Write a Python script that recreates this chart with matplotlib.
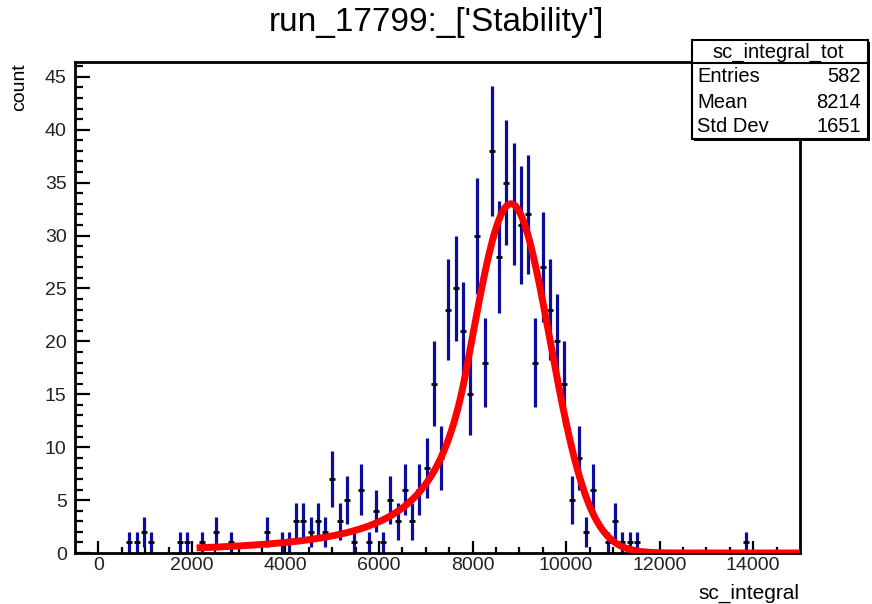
import numpy as np
import matplotlib
matplotlib.use("Agg")
import matplotlib.pyplot as plt
from matplotlib.patches import Rectangle

plt.rcParams['font.family'] = ['Liberation Sans', 'DejaVu Sans']

# histogram: 100 bins from -500 to 15000
x_lo = -500.0
x_hi = 15000.0
n_bins = 100
counts = [
    0, 0, 0, 0, 0, 0, 0, 1, 1, 2,
    1, 0, 0, 0, 1, 1, 0, 1, 0, 2,
    0, 1, 0, 0, 0, 0, 2, 0, 1, 1,
    3, 3, 2, 3, 2, 7, 3, 5, 1, 6,
    1, 4, 1, 5, 3, 6, 3, 6, 8, 16,
    9, 23, 25, 21, 15, 30, 18, 38, 28, 35,
    33, 31, 32, 18, 27, 23, 20, 16, 5, 9,
    2, 6, 0, 1, 3, 1, 1, 1, 0, 0,
    0, 0, 0, 0, 0, 0, 0, 0, 0, 0,
    0, 0, 1, 0, 0, 0, 0, 0, 0, 0,
]

# fit (crystal ball) parameters
fit_norm = 33.0
fit_mean = 8820.0
fit_sigma = 840.0
fit_alpha = 1.15
fit_n = 2.5
fit_range = (2100.0, 15000.0)

stats_name = "sc_integral_tot"
stats_rows = [("Entries", "582"), ("Mean", "8214"), ("Std Dev", "1651")]


def crystal_ball(x):
    t = (x - fit_mean) / fit_sigma
    a = abs(fit_alpha)
    A = (fit_n / a) ** fit_n * np.exp(-a * a / 2)
    B = fit_n / a - a
    out = np.empty_like(t)
    core = t > -a
    out[core] = np.exp(-t[core] ** 2 / 2)
    out[~core] = A * (B - t[~core]) ** (-fit_n)
    return fit_norm * out


counts = np.array(counts, dtype=float)
width = (x_hi - x_lo) / n_bins
centers = x_lo + width * (np.arange(n_bins) + 0.5)
filled = counts > 0

fig = plt.figure(figsize=(8.72, 6.04), dpi=100)
ax = fig.add_axes([75 / 872, 1 - 553 / 604, 725 / 872, 491 / 604])

ax.errorbar(centers[filled], counts[filled], yerr=np.sqrt(counts[filled]),
            fmt='none', ecolor='#0b0b9e', elinewidth=2.3, capsize=0, zorder=2)
ax.plot(centers[filled], counts[filled], ls='none', marker='_', ms=5, mew=2,
        color='black', zorder=3)

xf = np.linspace(fit_range[0], fit_range[1], 600)
ax.plot(xf, crystal_ball(xf), color='#ff0000', lw=5, zorder=4,
        solid_capstyle='butt')

ax.set_xlim(x_lo, x_hi)
ax.set_ylim(0, 46.4)
ax.set_xticks(np.arange(0, 15000, 2000))
ax.set_xticks(np.arange(0, 15000, 500), minor=True)
ax.set_yticks(np.arange(0, 46, 5))
ax.set_yticks(np.arange(0, 47, 1), minor=True)

for s in ax.spines.values():
    s.set_linewidth(2)
ax.tick_params(axis='both', which='both', direction='in', top=False, right=False,
               width=1.6, labelsize=14, labelcolor='#222222')
ax.tick_params(axis='y', which='major', length=11, pad=6)
ax.tick_params(axis='y', which='minor', length=5.5)
ax.tick_params(axis='x', which='major', length=9, pad=3)
ax.tick_params(axis='x', which='minor', length=4.5)

fig.text(0.5, 1 - 23 / 604, "run_17799:_['Stability']", ha='center', va='center',
         fontsize=24)
fig.text(20 / 872, 1 - 63 / 604, "count", rotation=90, ha='center', va='top',
         fontsize=14)
fig.text(799 / 872, 1 - 593 / 604, "sc_integral", ha='right', va='center',
         fontsize=15)

# stats box
bl, br, bt, bb, bh = 692, 868, 40, 139, 63
def fx(p):
    return p / 872
def fy(p):
    return 1 - p / 604

shadow = Rectangle((fx(bl + 2), fy(bb + 2)), fx(br - bl), fy(bt) - fy(bb),
                   transform=fig.transFigure, facecolor='black', edgecolor='black', lw=0)
fig.add_artist(shadow)
box = Rectangle((fx(bl), fy(bb)), fx(br - bl), fy(bt) - fy(bb),
                transform=fig.transFigure, facecolor='white', edgecolor='black', lw=1.5)
fig.add_artist(box)
fig.add_artist(plt.Line2D([fx(bl), fx(br)], [fy(bh), fy(bh)],
                          transform=fig.transFigure, color='black', lw=1.5))
fig.text(fx((bl + br) / 2 - 2), fy(52), stats_name, ha='center', va='center', fontsize=14.5)
for k, (lab, val) in enumerate(stats_rows):
    yy = fy(77 + 25 * k)
    fig.text(fx(697), yy, lab, ha='left', va='center', fontsize=14.5)
    fig.text(fx(861), yy, val, ha='right', va='center', fontsize=14.5)

fig.savefig("out.png", dpi=100)
